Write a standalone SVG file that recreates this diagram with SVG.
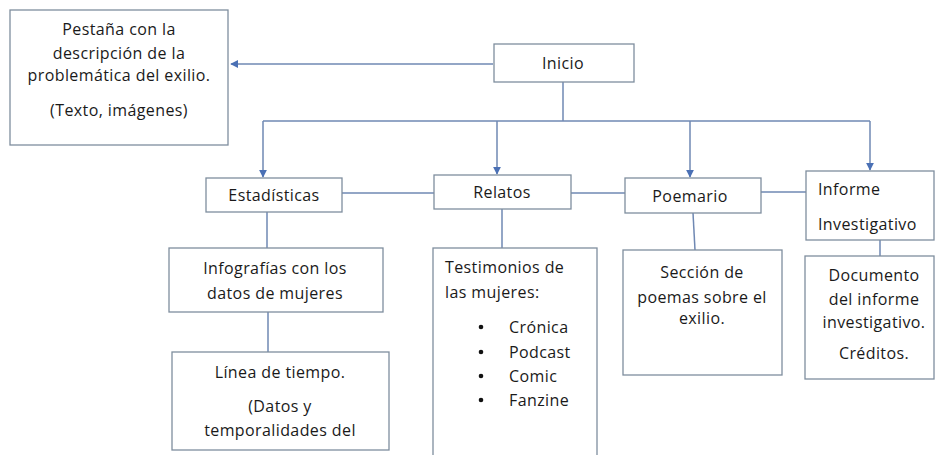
<svg xmlns="http://www.w3.org/2000/svg" width="936" height="455" viewBox="0 0 936 455">
<defs>
<style>
.box{fill:#fff;stroke:#7f8e9e;stroke-width:1.3}
.ln{fill:none;stroke:#6f88b3;stroke-width:1.5}
text{font-family:"Open Sans","Liberation Sans",sans-serif;font-size:16px;letter-spacing:0.4px;fill:#1a1a1a}
.c{text-anchor:middle}
</style>
<marker id="ah" viewBox="0 0 10 10" refX="9" refY="5" markerWidth="8" markerHeight="8" markerUnits="userSpaceOnUse" orient="auto">
<path d="M0,0 L10,5 L0,10 z" fill="#4a70b5"/>
</marker>
</defs>
<rect width="936" height="455" fill="#fff"/>
<g id="connectors">
<line class="ln" x1="493" y1="64" x2="231" y2="64" marker-end="url(#ah)"/>
<line class="ln" x1="563" y1="82" x2="563" y2="121"/>
<line class="ln" x1="263" y1="121" x2="870" y2="121"/>
<line class="ln" x1="263" y1="121" x2="263" y2="177" marker-end="url(#ah)"/>
<line class="ln" x1="497" y1="121" x2="497" y2="174" marker-end="url(#ah)"/>
<line class="ln" x1="690" y1="121" x2="690" y2="177" marker-end="url(#ah)"/>
<line class="ln" x1="870" y1="121" x2="870" y2="170" marker-end="url(#ah)"/>
<line class="ln" x1="342" y1="193" x2="434" y2="193"/>
<line class="ln" x1="571" y1="193" x2="625" y2="193"/>
<line class="ln" x1="761" y1="192" x2="806" y2="192"/>
<line class="ln" x1="267" y1="212" x2="267" y2="248"/>
<line class="ln" x1="268" y1="312" x2="268" y2="352"/>
<line class="ln" x1="502" y1="209" x2="502" y2="248"/>
<line class="ln" x1="693" y1="213" x2="695" y2="250"/>
<line class="ln" x1="880" y1="240" x2="880" y2="256"/>
</g>
<g id="pestana">
<rect class="box" x="10" y="10" width="218" height="135"/>
<text class="c" x="119" y="35">Pestaña con la</text>
<text class="c" x="119" y="59">descripción de la</text>
<text class="c" x="119" y="81">problemática del exilio.</text>
<text class="c" x="119" y="116">(Texto, imágenes)</text>
</g>
<g id="inicio">
<rect class="box" x="494" y="44" width="140" height="38"/>
<text class="c" x="563" y="69">Inicio</text>
</g>
<g id="estadisticas">
<rect class="box" x="206" y="178" width="136" height="34"/>
<text class="c" x="274" y="201">Estadísticas</text>
</g>
<g id="relatos">
<rect class="box" x="434" y="175" width="137" height="34"/>
<text class="c" x="502" y="198">Relatos</text>
</g>
<g id="poemario">
<rect class="box" x="625" y="178" width="136" height="35"/>
<text class="c" x="690" y="202">Poemario</text>
</g>
<g id="informe">
<rect class="box" x="806" y="171" width="128" height="69"/>
<text x="818" y="195">Informe</text>
<text x="818" y="230">Investigativo</text>
</g>
<g id="infografias">
<rect class="box" x="169" y="248" width="214" height="64"/>
<text class="c" x="275" y="274">Infografías con los</text>
<text class="c" x="275" y="299">datos de mujeres</text>
</g>
<g id="linea">
<rect class="box" x="172" y="352" width="217" height="98"/>
<text class="c" x="280" y="378">Línea de tiempo.</text>
<text class="c" x="280" y="412">(Datos y</text>
<text class="c" x="280" y="436">temporalidades del</text>
</g>
<g id="testimonios">
<rect class="box" x="433" y="248" width="164" height="220"/>
<text x="445" y="273">Testimonios de</text>
<text x="445" y="298">las mujeres:</text>
<circle cx="481" cy="327" r="2.3" fill="#111"/>
<circle cx="481" cy="352" r="2.3" fill="#111"/>
<circle cx="481" cy="376" r="2.3" fill="#111"/>
<circle cx="481" cy="400" r="2.3" fill="#111"/>
<text x="509" y="333">Crónica</text>
<text x="509" y="358">Podcast</text>
<text x="509" y="382">Comic</text>
<text x="509" y="406">Fanzine</text>
</g>
<g id="seccion">
<rect class="box" x="623" y="250" width="159" height="125"/>
<text class="c" x="702" y="278">Sección de</text>
<text class="c" x="702" y="303">poemas sobre el</text>
<text class="c" x="702" y="324">exilio.</text>
</g>
<g id="documento">
<rect class="box" x="805" y="256" width="129" height="123"/>
<text class="c" x="874" y="281">Documento</text>
<text class="c" x="874" y="305">del informe</text>
<text class="c" x="874" y="328">investigativo.</text>
<text class="c" x="874" y="359">Créditos.</text>
</g>
</svg>
